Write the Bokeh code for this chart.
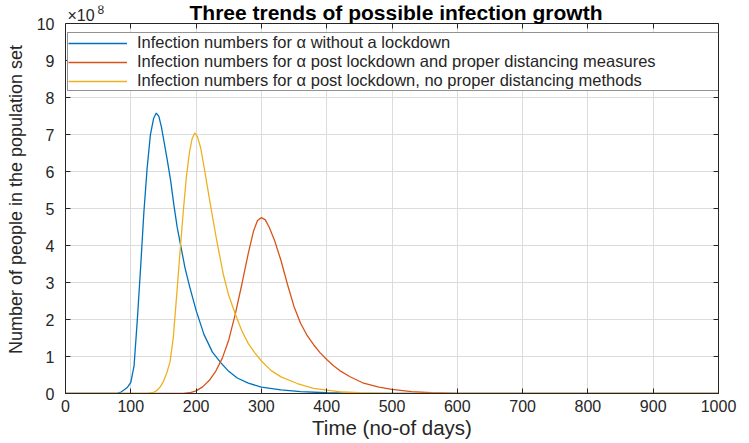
from bokeh.plotting import figure
from bokeh.models import (Range1d, LinearAxis, FixedTicker, Label, Legend, LegendItem,
                          BoxAnnotation)
from bokeh.embed import file_html
from bokeh.resources import INLINE

# ---- data (infections in units of 1e8) ----
days_no_lockdown = [0, 70, 80, 85, 90, 95, 100, 105, 110, 115, 120, 125, 130, 135, 139,
                    143, 147, 151, 156, 161, 166, 171, 177, 183, 190, 200, 212, 225, 238,
                    250, 263, 280, 300, 330, 360, 400, 450, 500, 1000]
inf_no_lockdown = [0, 0, 0.01, 0.04, 0.1, 0.17, 0.3, 0.75, 2.0, 3.4, 4.9, 6.1, 7.0, 7.45, 7.59,
                   7.5, 7.2, 6.8, 6.3, 5.76, 5.1, 4.5, 3.95, 3.4, 2.9, 2.25, 1.6, 1.12, 0.83,
                   0.6, 0.42, 0.28, 0.17, 0.1, 0.05, 0.02, 0.005, 0, 0]

days_proper = [0, 180, 190, 200, 210, 220, 230, 240, 250, 260, 270, 280, 288, 294, 300,
               306, 312, 320, 330, 340, 350, 360, 370, 380, 390, 400, 410, 420, 435, 455,
               480, 500, 530, 560, 600, 1000]
inf_proper = [0, 0, 0.02, 0.07, 0.18, 0.35, 0.6, 0.95, 1.45, 2.15, 2.95, 3.8, 4.4, 4.68, 4.76,
              4.7, 4.5, 4.15, 3.6, 2.95, 2.35, 1.9, 1.57, 1.32, 1.1, 0.92, 0.76, 0.62, 0.46, 0.29,
              0.17, 0.11, 0.05, 0.02, 0, 0]

days_improper = [0, 125, 135, 140, 145, 150, 155, 160, 165, 170, 175, 180, 185, 190, 194, 198,
                 202, 207, 212, 222, 232, 242, 250, 260, 270, 280, 290, 300, 315, 330, 355,
                 380, 400, 425, 450, 500, 1000]
inf_improper = [0, 0, 0.03, 0.08, 0.18, 0.33, 0.55, 0.85, 1.5, 2.6, 3.75, 4.85, 5.85, 6.55, 6.9, 7.05,
                6.95, 6.65, 6.15, 5.1, 4.1, 3.2, 2.65, 2.15, 1.7, 1.35, 1.1, 0.88, 0.62, 0.45, 0.27,
                0.14, 0.09, 0.04, 0.02, 0, 0]

x_ticks = [0, 100, 200, 300, 400, 500, 600, 700, 800, 900, 1000]
y_ticks = [0, 1, 2, 3, 4, 5, 6, 7, 8, 9, 10]
y_max = 10

labels = ["Infection numbers for \u03b1 without a lockdown",
          "Infection numbers for \u03b1 post lockdown and proper distancing measures",
          "Infection numbers for \u03b1 post lockdown, no proper distancing methods"]
colors = ["#0072BD", "#D95319", "#EDB120"]

TXT = "#262626"
FONT = "Liberation Sans"

# frame extends a little above y=10 so that the title can be drawn there
p = figure(width=749, height=443, output_backend="svg", toolbar_location=None,
           x_range=Range1d(0, 1000), y_range=Range1d(0, 10.5),
           min_border_left=65, min_border_right=31, min_border_top=5, min_border_bottom=50)
p.background_fill_color = "white"
p.border_fill_color = "white"
p.outline_line_color = None

r1 = p.line(days_no_lockdown, inf_no_lockdown, line_color=colors[0], line_width=1.3)
r2 = p.line(days_proper, inf_proper, line_color=colors[1], line_width=1.3)
r3 = p.line(days_improper, inf_improper, line_color=colors[2], line_width=1.3)

for ax in (p.xaxis[0], p.yaxis[0]):
    ax.major_tick_in = 5
    ax.major_tick_out = 0
    ax.minor_tick_line_color = None
    ax.axis_line_color = TXT
    ax.major_tick_line_color = TXT
    ax.major_label_text_color = TXT
    ax.major_label_text_font = FONT
    ax.major_label_text_font_size = "16px"
    ax.axis_label_text_font = FONT
    ax.axis_label_text_font_style = "normal"
    ax.axis_label_text_color = TXT

p.xaxis[0].ticker = FixedTicker(ticks=x_ticks)
p.yaxis[0].ticker = FixedTicker(ticks=y_ticks)
p.yaxis[0].bounds = (0, y_max)
p.xaxis[0].axis_label = "Time (no-of days)"
p.xaxis[0].axis_label_text_font_size = "20.5px"
p.xaxis[0].major_label_standoff = 6
p.xaxis[0].axis_label_standoff = 1
p.yaxis[0].axis_label = "Number of people in the population set"
p.yaxis[0].axis_label_text_font_size = "18px"
p.yaxis[0].major_label_standoff = 11
p.yaxis[0].axis_label_standoff = 8

top = LinearAxis(ticker=FixedTicker(ticks=x_ticks), fixed_location=y_max,
                 major_label_text_font_size="1px",
                 major_label_text_color=None, major_label_standoff=0,
                 major_tick_in=5, major_tick_out=0,
                 minor_tick_line_color=None, axis_line_color=TXT, major_tick_line_color=TXT)
right = LinearAxis(ticker=FixedTicker(ticks=y_ticks), bounds=(0, y_max),
                   major_label_text_font_size="1px",
                   major_label_text_color=None, major_label_standoff=0,
                   major_tick_in=5, major_tick_out=0,
                   minor_tick_line_color=None, axis_line_color=TXT, major_tick_line_color=TXT)
p.add_layout(top, "above")
p.add_layout(right, "right")

p.xgrid.ticker = FixedTicker(ticks=x_ticks)
p.ygrid.ticker = FixedTicker(ticks=y_ticks)
for g in (p.xgrid[0], p.ygrid[0]):
    g.grid_line_color = "#dcdcdc"
    g.grid_line_width = 1

# white band above the axes box (hides grid lines there)
p.add_layout(BoxAnnotation(bottom=y_max, fill_color="white", fill_alpha=1.0,
                           line_color=None, level="underlay"))

legend = Legend(items=[LegendItem(label=labels[0], renderers=[r1]),
                       LegendItem(label=labels[1], renderers=[r2]),
                       LegendItem(label=labels[2], renderers=[r3])],
                location=(2, 302), orientation="vertical",
                padding=0, spacing=0, label_height=16, glyph_height=16, glyph_width=59,
                label_standoff=10, label_width=581, margin=0,
                label_text_font=FONT, label_text_font_size="16.5px", label_text_color=TXT,
                border_line_color=TXT, border_line_width=1,
                background_fill_color="white", background_fill_alpha=1.0)
p.add_layout(legend)

title = Label(x=500, y=y_max, x_offset=4, y_offset=11,
              text="Three trends of possible infection growth",
              text_align="center", text_baseline="middle", text_font=FONT,
              text_font_size="21px", text_font_style="bold", text_color="black")
p.add_layout(title)
mult = Label(x=0, y=y_max, x_offset=2, y_offset=8, text="\u00d710",
             text_align="left", text_baseline="middle", text_font=FONT,
             text_font_size="16px", text_color=TXT)
p.add_layout(mult)
expo = Label(x=0, y=y_max, x_offset=32, y_offset=14, text="8",
             text_align="left", text_baseline="middle", text_font=FONT,
             text_font_size="12px", text_color=TXT)
p.add_layout(expo)

open("out.html", "w").write(file_html(p, INLINE))
